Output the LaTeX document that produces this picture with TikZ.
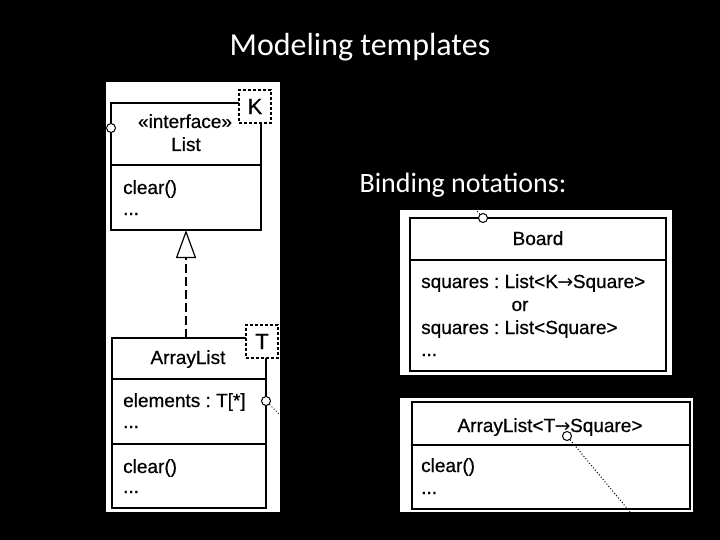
\documentclass[tikz,border=0pt]{standalone}
\usepackage{fontspec}
\setmainfont{Liberation Sans}
\newfontfamily\carlito{Carlito}
\newfontfamily\umlfont[FakeBold=0.6]{Liberation Sans}
\newfontfamily\arrfont{DejaVu Sans}
\newcommand{\bindarrow}{{\arrfont\kern-0.5pt→\kern-0.5pt}}
\frenchspacing
\usetikzlibrary{arrows.meta}
\begin{document}
\begin{tikzpicture}[x=1pt,y=-1pt,
  cls/.style={draw=black, line width=1.4pt, fill=white, inner sep=0pt, outer sep=0pt, rectangle},
  tparam/.style={draw=black, line width=1.3pt, dash pattern=on 3pt off 2pt, fill=white, inner sep=0pt, minimum width=32pt, minimum height=33pt, font=\umlfont\fontsize{22}{26}\selectfont},
  txt/.style={inner sep=0pt, font=\umlfont\fontsize{19}{23}\selectfont, text=black},
  port/.style={circle, draw=black, line width=1pt, fill=white, minimum size=9pt, inner sep=0pt},
  sep/.style={line width=1.2pt},
  wire/.style={dotted, line width=1pt},
  head/.style={text=white, font=\carlito\fontsize{32}{38}\selectfont, inner sep=0pt}
]
\useasboundingbox (0,0) rectangle (720,540);
\fill[black] (0,0) rectangle (720,540);
% titles
\node[head, anchor=base] (title) at (360,56) {Modeling templates};
\node[head, anchor=base, font=\carlito\fontsize{28}{34}\selectfont] (bind) at (463,193) {Binding notations:};
% panels
\fill[white] (106,82) rectangle (280,512);
\fill[white] (400,210) rectangle (672,375);
\fill[white] (400,398) rectangle (693,512);
% List interface
\node[cls, minimum width=150pt, minimum height=127pt] (list) at (186,166.5) {};
\draw[sep] (111,165) -- (261,165);
\node[tparam] (kp) at (255,106.5) {K};
\node[port] (lp) at (111,128) {};
\node[txt, anchor=base] (l1) at (185,128) {«interface»};
\node[txt, anchor=base] (l2) at (186,151) {List};
\node[txt, anchor=base west] (l3) at (123,194) {clear()};
\node[txt, anchor=base west] (l4) at (123,215) {...};
% ArrayList
\node[cls, minimum width=154pt, minimum height=170pt] (al) at (189,423) {};
\draw[sep] (112,379) -- (266,379);
\draw[sep] (112,444) -- (266,444);
\node[tparam] (tp) at (262,341.5) {T};
\node[txt, anchor=base] (a1) at (188,364) {ArrayList};
\node[txt, anchor=base west] (a2) at (123,407) {elements : T[*]};
\node[txt, anchor=base west] (a3) at (123,428) {...};
\node[txt, anchor=base west] (a4) at (123,473) {clear()};
\node[txt, anchor=base west] (a5) at (123,493) {...};
\node[port] (ap) at (266,401) {};
\coordinate (ae) at (280,415);
\draw[wire] (ap) -- (ae);
% realization
\draw[dash pattern=on 9pt off 4pt, line width=1.6pt, -{Triangle[open, length=28pt, width=20pt, line width=1.2pt]}] (al.north -| list.south) -- (list.south);
% Board
\node[cls, minimum width=256pt, minimum height=153pt] (bd) at (538,294.5) {};
\draw[sep] (410,260) -- (666,260);
\node[txt, anchor=base] (b1) at (538,245) {Board};
\node[txt, anchor=base west] (b2) at (421,288) {squares : List<K\bindarrow Square>};
\node[txt, anchor=base] (b3) at (520,311) {or};
\node[txt, anchor=base west] (b4) at (421,334) {squares : List<Square>};
\node[txt, anchor=base west] (b5) at (421,356) {...};
\node[port] (bp) at (483,218) {};
\coordinate (be) at (477,211);
\draw[wire] (bp) -- (be);
% ArrayList<T->Square>
\node[cls, minimum width=278pt, minimum height=107pt] (sq) at (551,455.5) {};
\draw[sep] (412,445) -- (690,445);
\node[txt, anchor=base] (s1) at (550,432) {ArrayList<T\bindarrow Square>};
\node[txt, anchor=base west] (s2) at (421,472) {clear()};
\node[txt, anchor=base west] (s3) at (421,494) {...};
\node[port] (sp) at (567,436) {};
\coordinate (se) at (630,512);
\draw[wire] (sp) -- (se);
\end{tikzpicture}
\end{document}
